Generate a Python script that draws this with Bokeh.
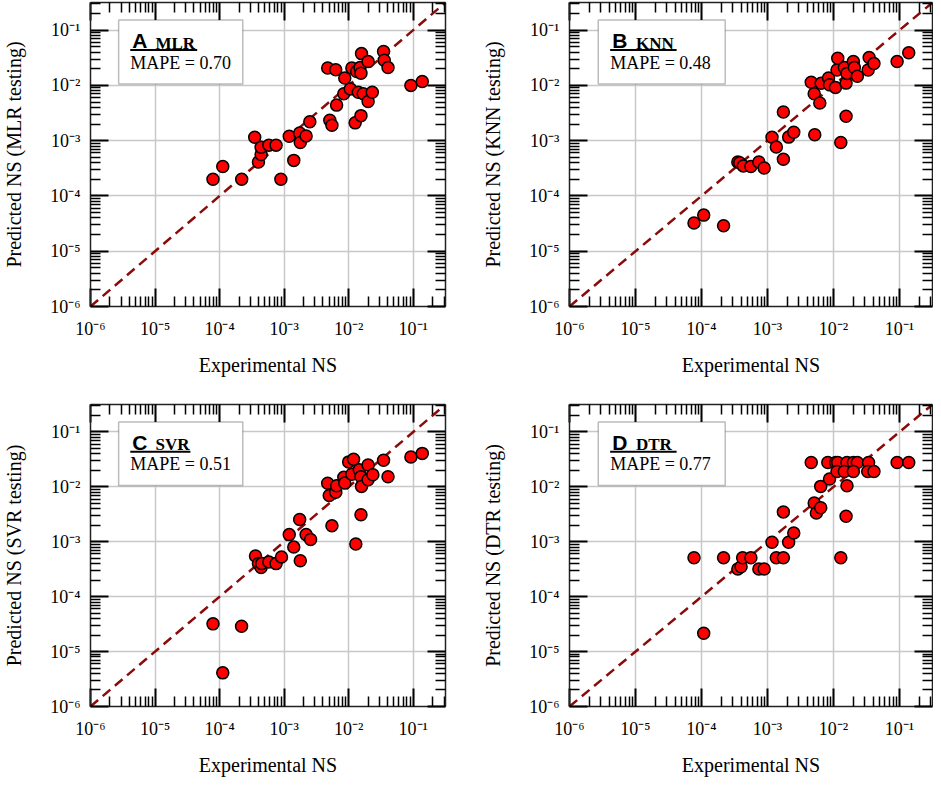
from bokeh.layouts import column, row
from bokeh.models import (BoxAnnotation, CustomJSTickFormatter, FixedTicker, Label,
                          LogAxis, Range1d)
from bokeh.plotting import figure
from bokeh.embed import file_html
from bokeh.resources import INLINE

# ---------------- data ----------------
letters = ["A", "B", "C", "D"]
models = ["MLR", "KNN", "SVR", "DTR"]
mape_values = ["0.70", "0.48", "0.51", "0.77"]

major_ticks = [1e-6, 1e-5, 1e-4, 1e-3, 1e-2, 1e-1]
tick_labels = ["10⁻⁶", "10⁻⁵", "10⁻⁴", "10⁻³", "10⁻²", "10⁻¹"]
minor_ticks = [m * d for d in major_ticks for m in range(2, 10)]

x_mlr = [7.9e-5, 1.12e-4, 2.2e-4, 3.5e-4, 4.0e-4, 4.4e-4, 4.4e-4, 5.8e-4, 7.5e-4, 8.9e-4,
         1.2e-3, 1.41e-3, 1.74e-3, 1.78e-3, 2.19e-3, 2.5e-3, 4.73e-3, 5.1e-3, 5.5e-3, 6.3e-3,
         6.5e-3, 8.4e-3, 8.7e-3, 1.06e-2, 1.12e-2, 1.26e-2, 1.33e-2, 1.41e-2, 1.5e-2, 1.55e-2,
         1.55e-2, 1.58e-2, 1.68e-2, 2.0e-2, 2.0e-2, 2.32e-2, 3.47e-2, 3.55e-2, 4.07e-2, 9.2e-2,
         0.138]
y_mlr = [2.0e-4, 3.4e-4, 2.0e-4, 1.15e-3, 4.1e-4, 5.6e-4, 7.6e-4, 8.3e-4, 8.3e-4, 2.0e-4,
         1.2e-3, 4.4e-4, 1.38e-3, 9.3e-4, 1.22e-3, 2.2e-3, 2.06e-2, 2.35e-3, 1.9e-3, 1.92e-2,
         4.4e-3, 7.05e-3, 1.36e-2, 8.65e-3, 2.06e-2, 2.1e-3, 1.79e-2, 7.5e-3, 2.1e-2, 1.66e-2,
         2.84e-3, 3.76e-2, 7.05e-3, 2.7e-2, 5.1e-3, 7.5e-3, 4.1e-2, 2.86e-2, 2.1e-2, 1.0e-2,
         1.18e-2]

x_knn = [7.7e-5, 1.08e-4, 2.16e-4, 3.55e-4, 3.8e-4, 4.3e-4, 5.6e-4, 7.4e-4, 8.9e-4, 1.17e-3,
         1.36e-3, 1.74e-3, 1.74e-3, 2.09e-3, 2.5e-3, 4.6e-3, 5.1e-3, 5.2e-3, 6.2e-3, 6.5e-3,
         8.4e-3, 8.7e-3, 1.07e-2, 1.13e-2, 1.16e-2, 1.29e-2, 1.46e-2, 1.55e-2, 1.55e-2, 1.6e-2,
         2.0e-2, 2.07e-2, 2.3e-2, 3.35e-2, 3.47e-2, 4.1e-2, 9.2e-2, 0.138]
y_knn = [3.25e-5, 4.5e-5, 2.9e-5, 4.1e-4, 4.0e-4, 3.5e-4, 3.4e-4, 4.1e-4, 3.2e-4, 1.15e-3,
         7.7e-4, 3.3e-3, 4.6e-4, 1.16e-3, 1.42e-3, 1.14e-2, 7.05e-3, 1.28e-3, 4.8e-3, 1.09e-2,
         1.36e-2, 1.03e-2, 9.2e-3, 1.9e-2, 3.1e-2, 9.3e-4, 2.1e-2, 1.1e-2, 2.76e-3, 1.65e-2,
         2.7e-2, 2.1e-2, 1.46e-2, 1.9e-2, 3.2e-2, 2.5e-2, 2.7e-2, 3.9e-2]

x_svr = [7.9e-5, 1.12e-4, 2.19e-4, 3.6e-4, 4.0e-4, 4.4e-4, 4.5e-4, 5.8e-4, 7.5e-4, 9.1e-4,
         1.2e-3, 1.41e-3, 1.74e-3, 1.78e-3, 2.19e-3, 2.57e-3, 4.73e-3, 5.0e-3, 5.5e-3, 6.3e-3,
         6.5e-3, 8.4e-3, 8.7e-3, 1.0e-2, 1.12e-2, 1.19e-2, 1.29e-2, 1.46e-2, 1.55e-2, 1.55e-2,
         1.58e-2, 2.0e-2, 2.0e-2, 2.37e-2, 3.47e-2, 4.07e-2, 9.2e-2, 0.138]
y_svr = [3.2e-5, 4.1e-6, 2.9e-5, 5.5e-4, 4.0e-4, 3.4e-4, 4.0e-4, 4.3e-4, 4.0e-4, 5.3e-4,
         1.35e-3, 8.0e-4, 2.55e-3, 4.5e-4, 1.35e-3, 1.1e-3, 1.16e-2, 6.97e-3, 1.95e-3, 8.0e-3,
         1.05e-2, 1.49e-2, 1.17e-2, 2.85e-2, 1.7e-2, 3.18e-2, 9.1e-4, 2.04e-2, 1.53e-2, 3.1e-3,
         1.02e-2, 2.5e-2, 1.35e-2, 1.66e-2, 3.05e-2, 1.53e-2, 3.5e-2, 4.07e-2]

x_dtr = [7.7e-5, 1.08e-4, 2.16e-4, 3.55e-4, 3.98e-4, 4.2e-4, 5.6e-4, 7.4e-4, 8.9e-4, 1.17e-3,
         1.36e-3, 1.74e-3, 1.74e-3, 2.09e-3, 2.5e-3, 5.1e-3, 5.5e-3, 6.4e-3, 6.4e-3, 8.7e-3,
         1.29e-2, 1.55e-2, 1.6e-2, 4.6e-3, 8.2e-3, 1.08e-2, 1.16e-2, 1.6e-2, 2.0e-2, 2.3e-2,
         3.4e-2, 9.2e-2, 0.138, 1.13e-2, 1.46e-2, 2.0e-2, 3.3e-2, 4.1e-2]
y_dtr = [5.1e-4, 2.16e-5, 5.1e-4, 3.2e-4, 3.5e-4, 5.1e-4, 5.1e-4, 3.2e-4, 3.2e-4, 9.8e-4,
         5.1e-4, 3.5e-3, 5.1e-4, 9.8e-4, 1.45e-3, 5.07e-3, 3.35e-3, 4.17e-3, 1.02e-2, 1.39e-2,
         5.1e-4, 2.92e-3, 1.05e-2, 2.77e-2, 2.77e-2, 2.77e-2, 2.77e-2, 2.77e-2, 2.77e-2, 2.77e-2,
         2.77e-2, 2.77e-2, 2.77e-2, 1.9e-2, 1.9e-2, 1.9e-2, 1.9e-2, 1.9e-2]

series_x = [x_mlr, x_knn, x_svr, x_dtr]
series_y = [y_mlr, y_knn, y_svr, y_dtr]

# ---------------- layout constants ----------------
LOG_LO, LOG_HI = -6.0, -0.5
FRAME_W, FRAME_H = 366, 304
SERIF = "Liberation Serif"
SANS = "Liberation Sans"
underline_end = [110, 108, 103, 108]


def fx(px):
    return 10 ** (LOG_LO + px / FRAME_W * (LOG_HI - LOG_LO))


def fy(py):
    return 10 ** (LOG_HI - py / FRAME_H * (LOG_HI - LOG_LO))


label_code = """
let best = 0;
for (let i = 0; i < majors.length; i++) {
  if (Math.abs(Math.log10(majors[i]) - Math.log10(tick)) < 0.01) { best = i; }
}
return labels[best];
"""


def style_axis(ax, show_labels, standoff):
    ax.ticker = FixedTicker(ticks=major_ticks, minor_ticks=minor_ticks)
    ax.major_tick_in = 18
    ax.major_tick_out = 0
    ax.minor_tick_in = 10
    ax.minor_tick_out = 0
    ax.major_tick_line_width = 2
    ax.minor_tick_line_width = 1.5
    ax.major_tick_line_color = "black"
    ax.minor_tick_line_color = "black"
    ax.axis_line_width = 1.5
    ax.axis_line_color = "#222222"
    if show_labels:
        ax.formatter = CustomJSTickFormatter(args=dict(labels=tick_labels, majors=major_ticks),
                                             code=label_code)
        ax.major_label_text_font = SERIF
        ax.major_label_text_font_size = "18px"
        ax.major_label_text_color = "black"
        ax.major_label_standoff = standoff
        ax.axis_label_text_font = SERIF
        ax.axis_label_text_font_size = "20px"
        ax.axis_label_text_font_style = "normal"
        ax.axis_label_text_color = "black"
    else:
        ax.formatter = CustomJSTickFormatter(code="return '';")
        ax.major_label_standoff = 0
        ax.major_label_text_font_size = "0px"


def make_panel(k, width, height, bl, br, bt, bb):
    lo, hi = 10 ** LOG_LO, 10 ** LOG_HI
    p = figure(width=width, height=height, x_axis_type="log", y_axis_type="log",
               x_range=Range1d(lo, hi), y_range=Range1d(lo, hi),
               output_backend="svg", toolbar_location=None,
               min_border_left=bl, min_border_right=br, min_border_top=bt,
               min_border_bottom=bb, outline_line_color=None,
               x_axis_label="Experimental NS",
               y_axis_label=f"Predicted NS ({models[k]} testing)")
    style_axis(p.xaxis[0], True, 12)
    style_axis(p.yaxis[0], True, 10)
    p.xaxis[0].axis_label_standoff = 12
    p.yaxis[0].axis_label_standoff = 22
    for side in ("right", "above"):
        ax = LogAxis()
        style_axis(ax, False, 0)
        p.add_layout(ax, side)
    p.grid.grid_line_color = "#c8c8c8"
    p.grid.grid_line_width = 1.5

    # identity line across the axis range
    p.line([lo, hi], [lo, hi], line_color="#8b0a0a", line_width=2.5, line_dash="10 6")
    p.scatter(series_x[k], series_y[k], size=12, fill_color="#ff0000",
              line_color="black", line_width=1.5)

    # legend box
    p.add_layout(BoxAnnotation(left=fx(29), right=fx(157), top=fy(17.5), bottom=fy(81.5),
                               fill_color="white", fill_alpha=1.0,
                               line_color="#222222", line_width=1.5))
    p.add_layout(Label(x=fx(43), y=fy(38), text=letters[k], text_font=SANS,
                       text_font_style="bold", text_font_size="21px",
                       text_baseline="middle", text_color="black"))
    p.add_layout(Label(x=fx(67), y=fy(40.5), text=models[k], text_font=SERIF,
                       text_font_style="bold", text_font_size="17px",
                       text_baseline="middle", text_color="black"))
    p.add_layout(BoxAnnotation(left=fx(41), right=fx(underline_end[k]), top=fy(46.5),
                               bottom=fy(48.5), fill_color="black", fill_alpha=1.0,
                               line_alpha=0))
    p.add_layout(Label(x=fx(41), y=fy(60), text=f"MAPE = {mape_values[k]}", text_font=SERIF,
                       text_font_size="18px", text_baseline="middle",
                       text_color="black"))
    return p


pa = make_panel(0, 479, 398, 79, 34, 2, 92)
pb = make_panel(1, 454, 398, 87, 1, 2, 92)
pc = make_panel(2, 479, 380, 79, 34, 6, 70)
pd = make_panel(3, 454, 380, 87, 1, 6, 70)

layout = column(row(pa, pb), row(pc, pd))
open("out.html", "w").write(file_html(layout, INLINE))
